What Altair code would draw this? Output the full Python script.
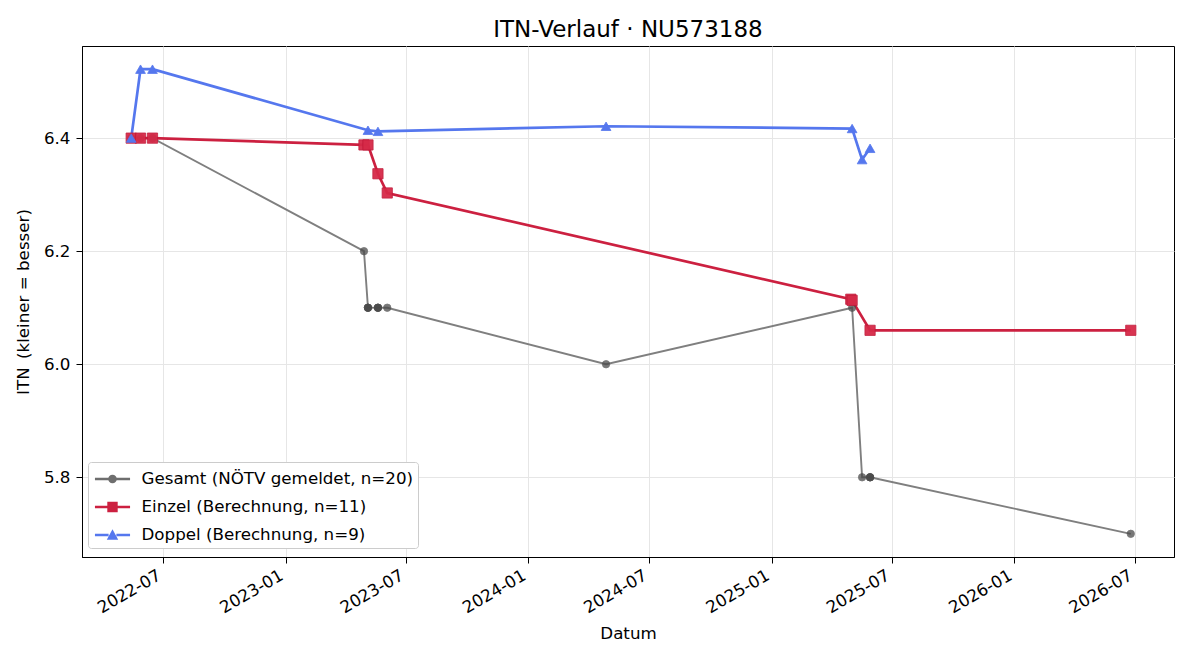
import altair as alt
import pandas as pd

# ---------------- data ----------------
gesamt_dates = ["2022-05-14", "2022-05-14", "2022-05-28", "2022-06-15", "2022-06-15",
                "2023-04-29", "2023-05-05", "2023-05-05", "2023-05-05",
                "2023-05-20", "2023-05-20", "2023-05-20", "2023-06-03",
                "2024-04-27", "2025-05-02", "2025-05-17",
                "2025-05-29", "2025-05-29", "2025-05-29", "2026-06-25"]
gesamt_vals = [6.4, 6.4, 6.4, 6.4, 6.4,
               6.2, 6.1, 6.1, 6.1,
               6.1, 6.1, 6.1, 6.1,
               6.0, 6.1, 5.8,
               5.8, 5.8, 5.8, 5.7]

einzel_dates = ["2022-05-14", "2022-05-28", "2022-06-15", "2023-04-29", "2023-05-05",
                "2023-05-20", "2023-06-03", "2025-04-30", "2025-05-02", "2025-05-29",
                "2026-06-25"]
einzel_vals = [6.4, 6.4, 6.4, 6.388, 6.388,
               6.337, 6.303, 6.115, 6.113, 6.06,
               6.06]

doppel_dates = ["2022-05-14", "2022-05-28", "2022-06-15", "2023-05-05", "2023-05-20",
                "2024-04-27", "2025-05-02", "2025-05-17", "2025-05-29"]
doppel_vals = [6.4, 6.522, 6.522, 6.414, 6.412,
               6.421, 6.417, 6.362, 6.382]

series_names = ["Gesamt (NÖTV gemeldet, n=20)",
                "Einzel (Berechnung, n=11)",
                "Doppel (Berechnung, n=9)"]
line_colors = ["#7f7f7f", "#cc2040", "#5577ee"]
point_colors = ["#4a4a4a", "#d62a48", "#5577ee"]
x_tick_labels = ["2022-07", "2023-01", "2023-07", "2024-01", "2024-07",
                 "2025-01", "2025-07", "2026-01", "2026-07"]
y_ticks = [5.8, 6.0, 6.2, 6.4]

FONT = "DejaVu Sans"
FS = 16.7


def frame(dates, vals, name):
    return pd.DataFrame({"Datum": [d + "T00:00:00" for d in dates],
                         "ITN": vals, "Serie": name})


df = pd.concat([frame(gesamt_dates, gesamt_vals, series_names[0]),
                frame(einzel_dates, einzel_vals, series_names[1]),
                frame(doppel_dates, doppel_vals, series_names[2])],
               ignore_index=True)

tick_values = [alt.DateTime(year=int(s[:4]), month=int(s[5:]), date=1) for s in x_tick_labels]

x_enc = alt.X("Datum:T",
              title="Datum",
              scale=alt.Scale(domain=[alt.DateTime(year=2022, month=3, date=1),
                                      alt.DateTime(year=2026, month=8, date=29)]),
              axis=alt.Axis(values=tick_values, format="%Y-%m", labelAngle=330,
                            labelAlign="right", labelBaseline="top",
                            labelPadding=4, labelOffset=-8, titlePadding=9))
y_enc = alt.Y("ITN:Q",
              title="ITN\u2002(kleiner = besser)",
              scale=alt.Scale(domain=[5.659, 6.563], nice=False, zero=False),
              axis=alt.Axis(values=y_ticks, format=".1f", titlePadding=11,
                            labelPadding=6))

base = alt.Chart(df).encode(x=x_enc, y=y_enc)

layers = []
widths = [1.9, 2.7, 2.7]
shapes = ["circle", "square", "triangle-up"]
sizes = [55, 105, 95]
opac = [0.75, 0.95, 1.0]
for i, name in enumerate(series_names):
    sub = base.transform_filter(alt.datum.Serie == name)
    layers.append(sub.mark_line(color=line_colors[i], strokeWidth=widths[i]))
for i, name in enumerate(series_names):
    sub = base.transform_filter(alt.datum.Serie == name)
    layers.append(sub.mark_point(shape=shapes[i], filled=True, size=sizes[i],
                                 color=point_colors[i], opacity=opac[i],
                                 stroke=point_colors[i] if i != 1 else "#c01838",
                                 strokeWidth=0.8))

# legend symbols: line segment + marker (size 676 -> 13 px per unit)
seg = "M-1.35,-0.095H-0.3V0.095H-1.35Z M0.3,-0.095H1.35V0.095H0.3Z "
legend_paths = [
    seg + "M0,-0.33A0.33,0.33 0 1,1 0,0.33A0.33,0.33 0 1,1 0,-0.33Z",
    seg + "M-0.4,-0.4H0.4V0.4H-0.4Z",
    seg + "M0,-0.44L0.44,0.36H-0.44Z",
]
legend_layer = base.transform_filter("false").mark_point(filled=True, opacity=1).encode(
    color=alt.Color("Serie:N",
                    scale=alt.Scale(domain=series_names, range=["#6e6e6e", "#cc2040", "#5577ee"]),
                    legend=alt.Legend(title=None, orient="none", legendX=6, legendY=416,
                                      symbolSize=676, labelFontSize=FS, labelFont=FONT,
                                      labelColor="black", labelLimit=0,
                                      rowPadding=6, padding=4, symbolOffset=7.5,
                                      fillColor="white",
                                      strokeColor="#cccccc", cornerRadius=3,
                                      labelOffset=16, symbolStrokeWidth=0)),
    shape=alt.Shape("Serie:N",
                    scale=alt.Scale(domain=series_names, range=legend_paths)),
)
layers.append(legend_layer)

chart = alt.layer(*layers).properties(
    width=1092, height=511,
    title=alt.TitleParams("ITN-Verlauf · NU573188", fontSize=23, font=FONT,
                          fontWeight="normal", anchor="middle", offset=4,
                          color="black"),
    autosize=alt.AutoSizeParams(type="none"),
    padding={"left": 82, "top": 46, "right": 26, "bottom": 103},
    background="white",
).configure_view(stroke="black", strokeWidth=1).configure_axis(
    labelFont=FONT, titleFont=FONT, labelFontSize=FS, titleFontSize=FS,
    labelColor="black", titleColor="black", titleFontWeight="normal",
    domainColor="black", tickColor="black", tickSize=6, gridColor="#e6e6e6",
    gridWidth=1,
)

chart.save("out.html", embed_options={"renderer": "svg", "actions": False})
